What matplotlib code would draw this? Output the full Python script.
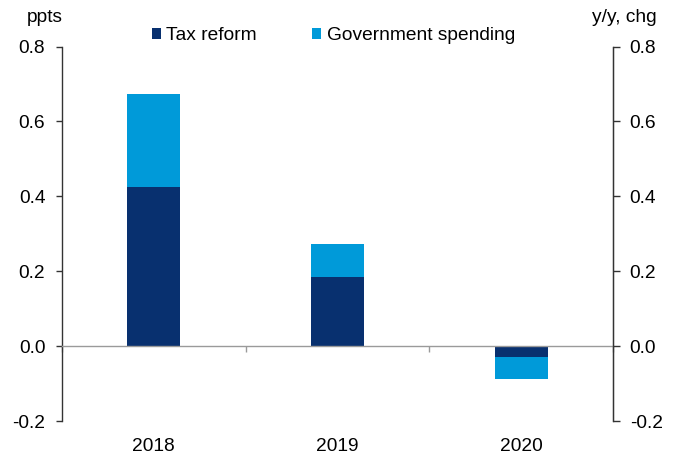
import matplotlib
matplotlib.use("Agg")
import matplotlib.pyplot as plt
from matplotlib.patches import Patch
import numpy as np

plt.rcParams['font.family'] = ['Liberation Sans', 'DejaVu Sans']

# Contributions to growth, percentage points
years = ["2018", "2019", "2020"]
tax_reform = [0.425, 0.185, -0.030]
gov_spending = [0.247, 0.087, -0.059]
series_names = ["Tax reform", "Government spending"]
y_ticks = [-0.2, 0.0, 0.2, 0.4, 0.6, 0.8]

navy = "#08306f"
blue = "#009ad9"
spine_col = "#333333"
zero_col = "#9a9a9a"
fs = 13.8

fig = plt.figure(figsize=(6.75, 4.66), dpi=100)
ax = fig.add_axes([62 / 675, 1 - 421 / 466, (613 - 62) / 675, (421 - 46.5) / 466])

x = np.arange(len(years))
tax = np.array(tax_reform)
gov = np.array(gov_spending)
width = 0.29
ax.bar(x, tax, width, color=navy, zorder=2)
# government spending stacks on top of tax reform (below it when negative)
ax.bar(x, gov, width, bottom=tax, color=blue, zorder=2)

ax.set_xlim(-0.5, len(years) - 0.5)
ax.set_ylim(y_ticks[0], y_ticks[-1])
ax.set_yticks(y_ticks)
ax.set_yticklabels([f"{v:.1f}" for v in y_ticks])

ax.spines["top"].set_visible(False)
ax.spines["left"].set_color(spine_col)
ax.spines["left"].set_linewidth(1.0)

# zero line acts as the category axis, with boundary ticks
ax.spines["bottom"].set_position(("data", 0))
ax.spines["bottom"].set_color(zero_col)
ax.spines["bottom"].set_linewidth(1.0)
ax.spines["bottom"].set_zorder(3)
ax.set_xticks(x)
ax.set_xticks(np.arange(len(years) + 1) - 0.5, minor=True)
ax.tick_params(axis="x", which="major", length=0, labelbottom=False)
ax.tick_params(axis="x", which="minor", length=4.5, width=1.0, color=zero_col, direction="out")

sec = ax.secondary_xaxis("bottom")
sec.set_xticks(x)
sec.set_xticklabels(years, fontsize=fs)
sec.tick_params(length=0, pad=12)
sec.spines["bottom"].set_visible(False)

ax.tick_params(axis="y", which="major", length=4, width=1.0, color=spine_col,
               labelsize=fs, pad=8, labelcolor="black")

# right-hand axis mirrors the left
ax2 = ax.twinx()
ax2.set_ylim(ax.get_ylim())
ax2.set_yticks(y_ticks)
ax2.set_yticklabels([f"{v:.1f}" for v in y_ticks])
ax2.tick_params(axis="y", length=5, width=1.0, color=spine_col, labelsize=fs, pad=7)
for s in ("top", "bottom", "left"):
    ax2.spines[s].set_visible(False)
ax2.spines["right"].set_color(spine_col)
ax2.spines["right"].set_linewidth(1.0)

fig.text(45 / 675, 1 - 18 / 466, "ppts", fontsize=fs, ha="center", va="center")
fig.text(624 / 675, 1 - 18 / 466, "y/y, chg", fontsize=fs, ha="center", va="center")

handles = [Patch(facecolor=navy, edgecolor="none"), Patch(facecolor=blue, edgecolor="none")]
fig.legend(handles, series_names, ncol=2, frameon=False, fontsize=fs,
           loc="center left", bbox_to_anchor=(152 / 675, 1 - 36 / 466),
           handlelength=0.47, handleheight=0.47, handletextpad=0.27,
           columnspacing=2.9, borderpad=0, borderaxespad=0)

fig.savefig("out.png", dpi=100)
